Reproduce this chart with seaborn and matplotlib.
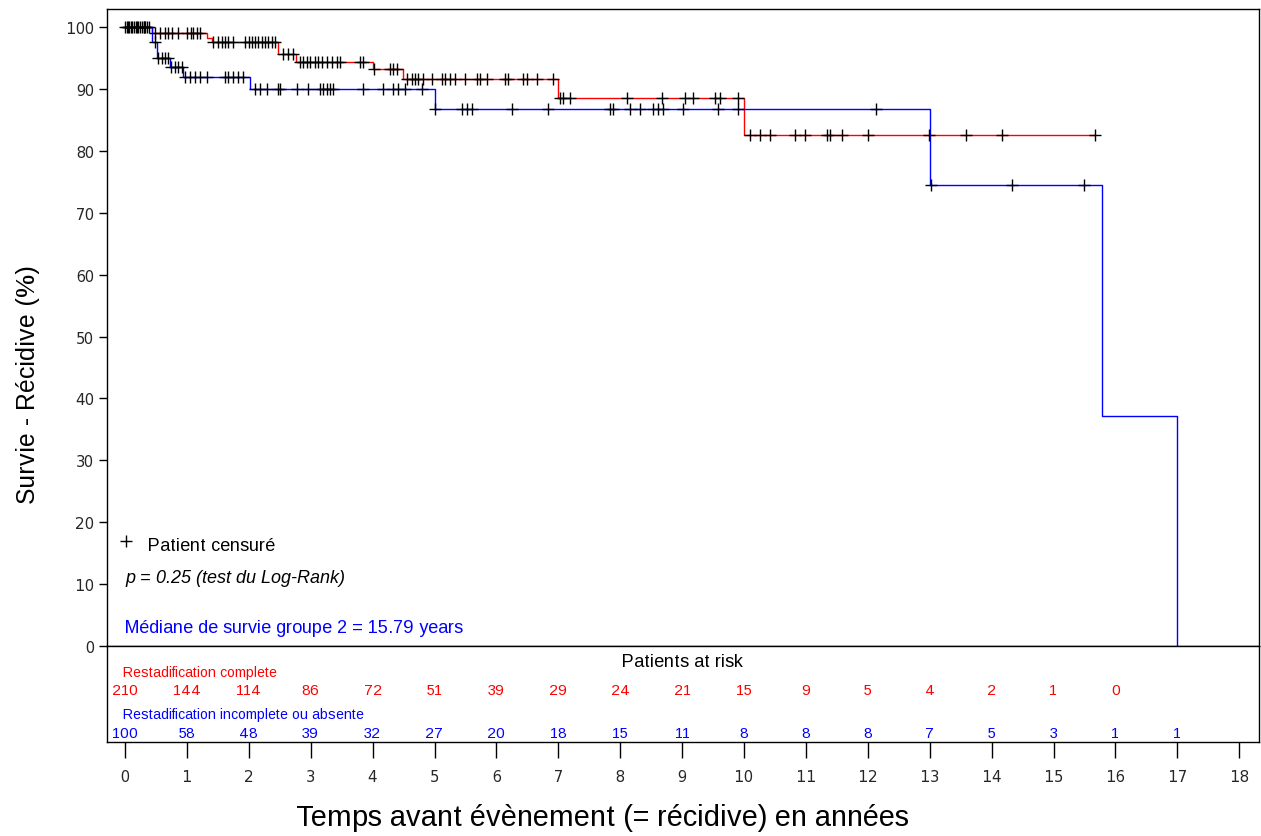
import numpy as np
import pandas as pd
import matplotlib
matplotlib.use("Agg")
import matplotlib.pyplot as plt
import seaborn as sns

# Kaplan-Meier steps (time in years, survival %)
red_times = [0, 0.43, 1.32, 1.40, 2.47, 2.77, 4.01, 4.49, 7.00, 10.00]
red_surv = [100, 99.1, 98.3, 97.5, 95.6, 94.4, 93.2, 91.6, 88.5, 82.6]
red_end = 15.67

blue_times = [0, 0.43, 0.51, 0.73, 0.94, 2.02, 5.00, 13.00, 15.79, 17.00]
blue_surv = [100, 97.5, 95.0, 93.5, 91.9, 90.0, 86.7, 74.4, 37.2, 0]
blue_end = 17.00

# censored patients
red_cens = [0.0, 0.03, 0.06, 0.09, 0.12, 0.15, 0.18, 0.21, 0.24, 0.27, 0.3, 0.33, 0.36, 0.39,
            0.48, 0.56, 0.64, 0.69, 0.76, 0.86, 1.0, 1.07, 1.1, 1.16, 1.21,
            1.42, 1.5, 1.57, 1.62, 1.67, 1.75, 1.94, 2.0, 2.05, 2.1, 2.15, 2.21, 2.26, 2.31, 2.37, 2.42,
            2.55, 2.63, 2.71,
            2.83, 2.88, 2.94, 2.99, 3.07, 3.12, 3.18, 3.26, 3.34, 3.42, 3.47, 3.8, 3.85,
            4.02, 4.28, 4.33, 4.39,
            4.55, 4.64, 4.69, 4.74, 4.81, 4.96, 5.12, 5.17, 5.25, 5.33, 5.49, 5.69, 5.74, 5.85,
            6.14, 6.19, 6.43, 6.49, 6.66, 6.91,
            7.03, 7.08, 7.19, 8.11, 8.68, 9.05, 9.18, 9.53, 9.61, 9.9,
            10.1, 10.26, 10.42, 10.82, 10.99, 11.34, 11.39, 11.58, 12.0, 12.99, 13.59, 14.17, 15.67]
blue_cens = [0.05, 0.2, 0.3,
             0.48, 0.53, 0.6, 0.65,
             0.7, 0.75, 0.81, 0.86, 0.92,
             0.97, 1.05, 1.13, 1.21, 1.32, 1.62, 1.67, 1.75, 1.83, 1.91,
             2.1, 2.18, 2.29, 2.47, 2.5, 2.78, 2.96, 3.15, 3.2, 3.26, 3.31, 3.36, 3.84,
             4.17, 4.33, 4.41, 4.52, 4.8,
             5.01, 5.44, 5.52, 5.6, 6.25, 6.83, 7.84, 7.88, 8.16, 8.32, 8.53, 8.61, 8.69,
             9.01, 9.58, 9.9, 12.13,
             13.02, 14.33, 15.5]

# patients at risk
risk_years = list(range(0, 18))
red_risk = [210, 144, 114, 86, 72, 51, 39, 29, 24, 21, 15, 9, 5, 4, 2, 1, 0]
blue_risk = [100, 58, 48, 39, 32, 27, 20, 18, 15, 11, 8, 8, 8, 7, 5, 3, 1, 1]

RED = "#ff0000"
BLUE = "#0000ff"

sns.set_theme(style="white")
plt.rcParams["font.family"] = ["Liberation Sans", "DejaVu Sans"]
plt.rcParams["text.hinting_factor"] = 1


def step_df(times, surv, end):
    t = list(times) + [end]
    s = list(surv) + [surv[-1]]
    return pd.DataFrame({"t": t, "s": s})


def cens_df(times, surv, cens):
    idx = np.searchsorted(times, cens, side="right") - 1
    return pd.DataFrame({"t": cens, "s": np.array(surv)[idx]})


fig = plt.figure(figsize=(12.61, 8.37), dpi=100)
W, H = 1261, 837
ax = fig.add_axes([107 / W, (H - 647) / H, 1152 / W, 637 / H])
rax = fig.add_axes([107 / W, (H - 743) / H, 1152 / W, 96 / H])

xmin, xmax = -18 / 61.9, 1134 / 61.9

for times, surv, end, col in [(red_times, red_surv, red_end, RED),
                              (blue_times, blue_surv, blue_end, BLUE)]:
    sns.lineplot(data=step_df(times, surv, end), x="t", y="s", ax=ax, color=col,
                 drawstyle="steps-post", estimator=None, sort=False, linewidth=1.0)
for times, surv, cens in [(red_times, red_surv, red_cens),
                          (blue_times, blue_surv, blue_cens)]:
    sns.scatterplot(data=cens_df(times, surv, cens), x="t", y="s", ax=ax, marker="+",
                    color="black", s=70, linewidth=1.0, zorder=5)

ax.set_xlim(xmin, xmax)
ax.set_ylim(0, 637 / 6.19)
ax.set_xticks([])
ax.set_yticks(range(0, 101, 10))
ax.set_yticklabels([str(v) for v in range(0, 101, 10)], family="DejaVu Sans", fontsize=10.5)
ax.tick_params(axis="y", direction="out", length=5.5, width=1, color="black", left=True, pad=4)
ax.set_xlabel("")
ax.set_ylabel("")
for sp in ax.spines.values():
    sp.set_color("black")
    sp.set_linewidth(1.0)

# legend / annotations
ax.scatter([0.02], [17.0], marker="+", color="black", s=70, linewidth=1.0)
ax.text(0.37, 16.2, "Patient censuré", fontsize=13, va="center", ha="left", color="black")
ax.text(0.0, 11.0, "p = 0.25 (test du Log-Rank)", fontsize=13, style="italic",
        va="center", ha="left", color="black")
ax.text(0.0, 3.0, "Médiane de survie groupe 2 = 15.79 years", fontsize=13,
        va="center", ha="left", color=BLUE)

# risk table
rax.set_xlim(xmin, xmax)
rax.set_ylim(96, 0)
rax.set_yticks([])
rax.set_xticks(range(0, 19))
rax.set_xticklabels([str(v) for v in range(0, 19)], family="DejaVu Sans", fontsize=10.5)
rax.tick_params(axis="x", direction="out", length=11.5, width=1, color="black", pad=8, bottom=True)
for sp in rax.spines.values():
    sp.set_color("black")
    sp.set_linewidth(1.0)

rax.text(9.0, 16, "Patients at risk", fontsize=13, ha="center", va="center", color="black")
rax.text(-0.04, 26, "Restadification complete", fontsize=10.4, ha="left", va="center", color=RED)
rax.text(-0.04, 68, "Restadification incomplete ou absente", fontsize=10.4, ha="left",
         va="center", color=BLUE)
for yr, n in zip(risk_years, red_risk):
    rax.text(yr, 44, str(n), fontsize=10.5, ha="center", va="center", color=RED)
for yr, n in zip(risk_years + [17], blue_risk):
    rax.text(yr, 87, str(n), fontsize=10.5, ha="center", va="center", color=BLUE)

fig.text(602 / W, (H - 818) / H, "Temps avant évènement (= récidive) en années",
         fontsize=21, ha="center", va="center", color="black")
fig.text(28 / W, (H - 385) / H, "Survie - Récidive (%)", fontsize=18, rotation=90,
         ha="center", va="center", color="black")

fig.savefig("out.png", dpi=100)
